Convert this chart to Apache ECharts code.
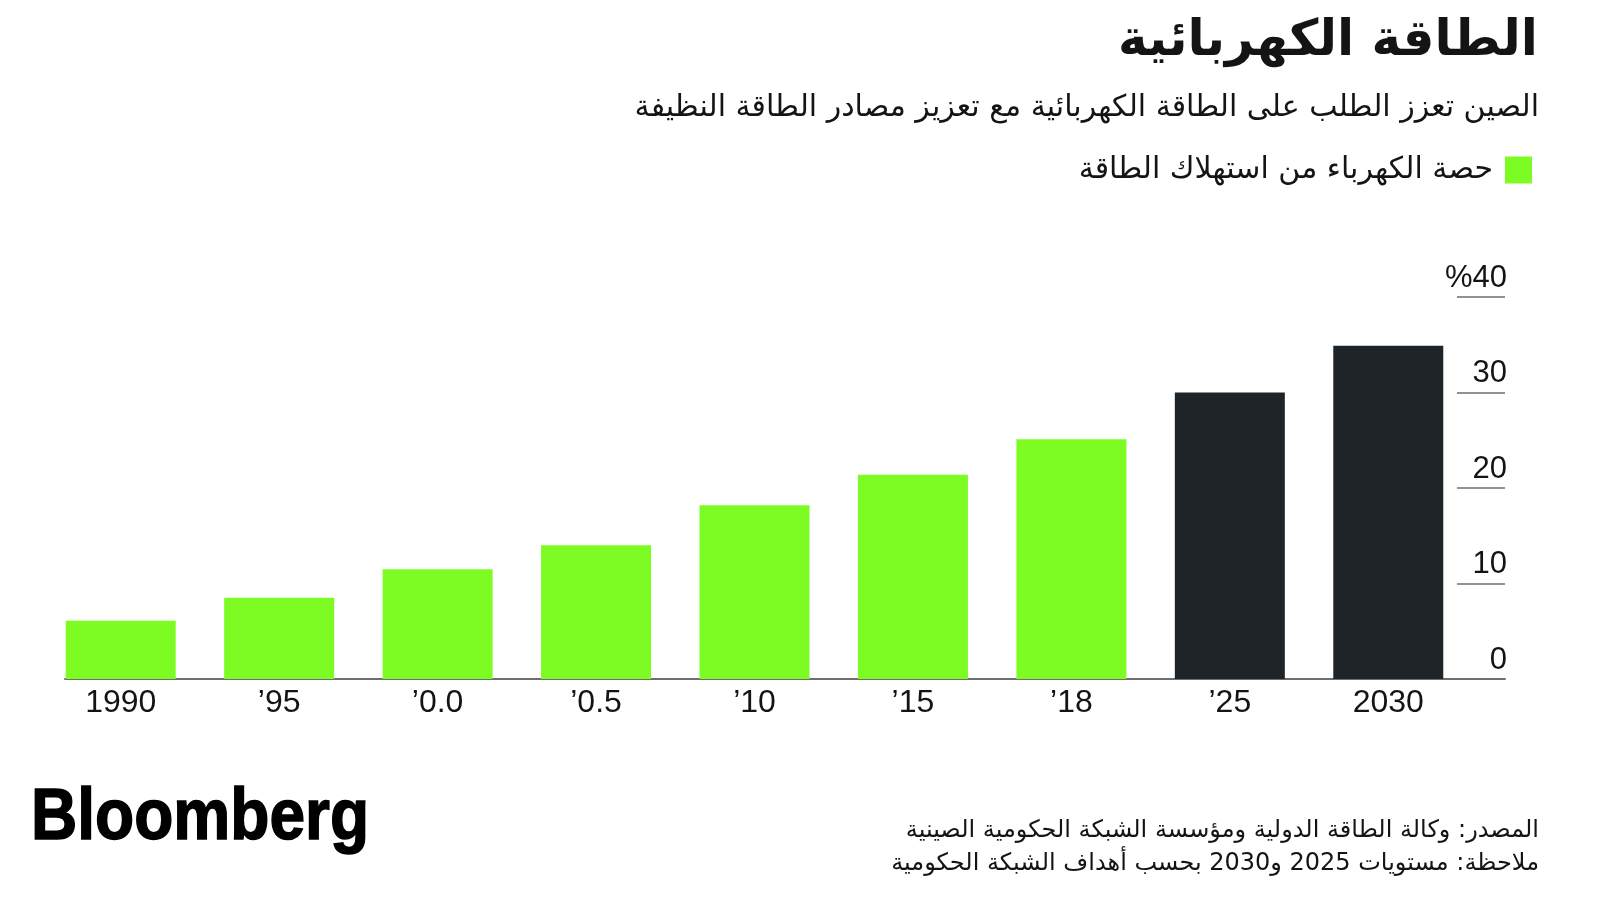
<!DOCTYPE html>
<html>
<head>
<meta charset="utf-8">
<script src="https://cdn.jsdelivr.net/npm/echarts@6/dist/echarts.min.js"></script>
<style>
  html, body { margin: 0; padding: 0; background: #ffffff; }
  #chart { width: 1600px; height: 900px; }
</style>
</head>
<body>
<div id="chart"></div>
<script>
// ---- data ----
const categories = ['1990', '’95', '’0.0', '’0.5', '’10', '’15', '’18', '’25', '2030'];
const shareValues = [6.1, 8.5, 11.5, 14.0, 18.2, 21.4, 25.1, 30.0, 34.9];
const isGovTarget = [false, false, false, false, false, false, false, true, true];
const yTicks = [0, 10, 20, 30, 40];
const yTickLabels = ['0', '10', '20', '30', '%40'];

const titleText = 'الطاقة الكهربائية';
const subtitleText = 'الصين تعزز الطلب على الطاقة الكهربائية مع تعزيز مصادر الطاقة النظيفة';
const seriesName = 'حصة الكهرباء من استهلاك الطاقة';
const sourceText = 'المصدر: وكالة الطاقة الدولية ومؤسسة الشبكة الحكومية الصينية';
const noteText = 'ملاحظة: مستويات 2025 و2030 بحسب أهداف الشبكة الحكومية';

// ---- styles ----
const GREEN = '#7dfc23';
const DARK = '#1f2428';
const TEXT = '#141414';
const AR_FONT = '"DejaVu Sans", "Noto Sans", sans-serif';
const LAT_FONT = '"Liberation Sans", Arial, sans-serif';

const chart = echarts.init(document.getElementById('chart'), null, { renderer: 'canvas' });

const option = {
  backgroundColor: '#ffffff',
  animation: false,
  legend: {
    data: [seriesName],
    right: 63,
    top: 150,
    align: 'right',
    icon: 'rect',
    itemWidth: 27,
    itemHeight: 27,
    textStyle: { fontFamily: AR_FONT, fontSize: 30, color: TEXT, padding: [0, 7, 0, 0] }
  },
  grid: [
    { left: 41.5, right: 132.5, top: 297, bottom: 221, containLabel: false },
    { left: 65, right: 95, top: 297, bottom: 221, containLabel: false },
    { left: 1457, right: 95, top: 297, bottom: 221, containLabel: false }
  ],
  xAxis: [
    {
      type: 'category', gridIndex: 0, data: categories,
      axisLine: { show: false }, axisTick: { show: false },
      axisLabel: { fontFamily: LAT_FONT, fontSize: 32, color: TEXT, margin: 8 }
    },
    {
      type: 'value', gridIndex: 1, min: 0, max: 1,
      axisLine: { show: true, lineStyle: { color: '#6e6e6e', width: 2 } },
      axisTick: { show: false }, axisLabel: { show: false }, splitLine: { show: false }
    },
    {
      type: 'value', gridIndex: 2, min: 0, max: 1, show: false
    }
  ],
  yAxis: [
    {
      type: 'value', gridIndex: 0, min: 0, max: 40, interval: 10, show: false
    },
    {
      type: 'value', gridIndex: 1, min: 0, max: 40, interval: 10, show: false
    },
    {
      type: 'value', gridIndex: 2, position: 'right', min: 0, max: 40, interval: 10,
      axisLine: { show: false },
      axisTick: { show: false },
      splitLine: { show: true, lineStyle: { color: '#6e6e6e', width: 1.5 } },
      axisLabel: {
        inside: true, margin: -2, fontFamily: LAT_FONT, fontSize: 31, color: TEXT,
        verticalAlign: 'bottom', lineHeight: 38,
        formatter: function (v) { return yTickLabels[yTicks.indexOf(v)]; }
      }
    }
  ],
  series: [
    {
      name: seriesName,
      type: 'bar',
      xAxisIndex: 0, yAxisIndex: 0,
      barWidth: 110,
      itemStyle: { color: GREEN },
      data: shareValues.map(function (v, i) {
        return isGovTarget[i] ? { value: v, itemStyle: { color: DARK } } : v;
      })
    }
  ],
  graphic: [
    {
      type: 'text', x: 1538, y: 42,
      style: { text: titleText, align: 'right', verticalAlign: 'middle', font: 'bold 50px ' + AR_FONT, fill: TEXT }
    },
    {
      type: 'text', x: 1539, y: 108,
      style: { text: subtitleText, align: 'right', verticalAlign: 'middle', font: '30px ' + AR_FONT, fill: TEXT }
    },
    {
      type: 'text', x: 31, y: 819, scaleX: 0.89,
      style: { text: 'Bloomberg', align: 'left', verticalAlign: 'middle', font: 'bold 72px ' + LAT_FONT, fill: '#000000', stroke: '#000000', lineWidth: 1.5 }
    },
    {
      type: 'text', x: 1539, y: 831,
      style: { text: sourceText, align: 'right', verticalAlign: 'middle', font: '24px ' + AR_FONT, fill: TEXT }
    },
    {
      type: 'text', x: 1539, y: 864,
      style: { text: noteText, align: 'right', verticalAlign: 'middle', font: '24px ' + AR_FONT, fill: TEXT }
    }
  ]
};

chart.setOption(option);
</script>
</body>
</html>
